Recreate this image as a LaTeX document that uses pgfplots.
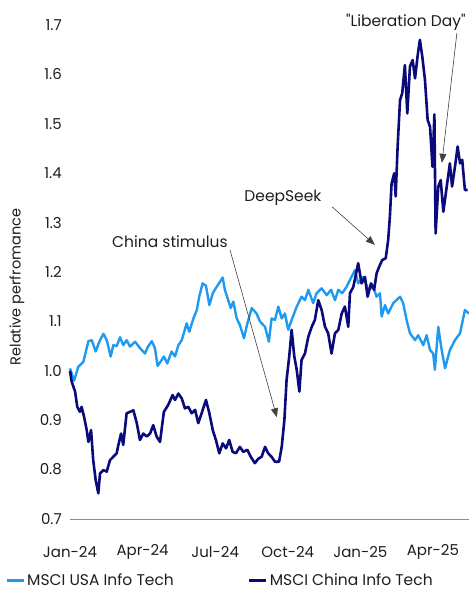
\documentclass[border=0pt]{standalone}
\usepackage{fontspec}
\setmainfont{Poppins}
\usepackage{pgfplots}
\usepackage{pgfplotstable}
\pgfplotsset{compat=1.18}
\usetikzlibrary{arrows.meta}
\definecolor{usa}{HTML}{1E9BF0}
\definecolor{china}{HTML}{0A0A7A}
\definecolor{arr}{HTML}{404040}
\definecolor{txt}{HTML}{1E1E1E}

\pgfplotstableread{
m v
0.00 1.005
0.17 0.980
0.34 1.008
0.55 1.018
0.76 1.060
0.90 1.062
1.06 1.039
1.21 1.059
1.38 1.075
1.52 1.062
1.68 1.029
1.79 1.052
1.93 1.050
2.07 1.068
2.20 1.052
2.34 1.062
2.48 1.049
2.69 1.059
2.89 1.046
3.10 1.035
3.21 1.048
3.38 1.060
3.51 1.046
3.62 1.010
3.79 1.022
3.88 1.029
4.02 1.015
4.20 1.039
4.34 1.029
4.48 1.052
4.62 1.062
4.82 1.096
4.93 1.079
5.10 1.106
5.24 1.123
5.34 1.150
5.48 1.177
5.62 1.172
5.76 1.133
5.90 1.157
6.06 1.170
6.20 1.180
6.31 1.189
6.40 1.164
6.54 1.143
6.64 1.127
6.75 1.140
6.89 1.106
7.02 1.093
7.19 1.066
7.33 1.096
7.51 1.127
7.71 1.116
7.85 1.100
8.06 1.089
8.22 1.059
8.33 1.106
8.47 1.103
8.61 1.130
8.75 1.106
8.88 1.116
9.02 1.083
9.16 1.103
9.37 1.130
9.57 1.150
9.71 1.143
9.85 1.164
10.05 1.137
10.19 1.157
10.40 1.167
10.61 1.153
10.79 1.164
10.95 1.143
11.09 1.164
11.25 1.157
11.43 1.170
11.57 1.184
11.78 1.204
11.91 1.177
12.12 1.190
12.33 1.164
12.53 1.170
12.67 1.150
12.81 1.157
12.88 1.110
13.02 1.133
13.15 1.116
13.36 1.137
13.64 1.150
13.77 1.137
13.91 1.103
14.05 1.076
14.26 1.062
14.39 1.072
14.60 1.052
14.74 1.072
14.88 1.042
15.01 1.035
15.08 1.002
15.22 1.089
15.36 1.042
15.50 1.005
15.70 1.042
15.91 1.062
16.12 1.076
16.32 1.123
16.49 1.116
}\usadata

\pgfplotstableread{
m v
0.00 1.000
0.07 0.978
0.21 0.958
0.30 0.927
0.41 0.917
0.48 0.927
0.58 0.907
0.69 0.880
0.76 0.856
0.87 0.880
0.96 0.819
1.06 0.779
1.17 0.752
1.24 0.792
1.38 0.799
1.52 0.796
1.65 0.819
1.79 0.826
1.93 0.833
2.00 0.850
2.11 0.873
2.20 0.850
2.34 0.914
2.48 0.917
2.62 0.920
2.76 0.894
2.89 0.860
3.03 0.873
3.17 0.867
3.31 0.873
3.44 0.890
3.58 0.867
3.72 0.856
3.88 0.917
4.06 0.931
4.24 0.951
4.34 0.941
4.48 0.954
4.62 0.944
4.75 0.924
4.89 0.927
5.03 0.914
5.17 0.921
5.30 0.894
5.44 0.914
5.62 0.941
5.76 0.914
5.90 0.880
6.03 0.860
6.17 0.833
6.31 0.853
6.45 0.843
6.58 0.860
6.72 0.836
6.86 0.833
7.02 0.846
7.16 0.836
7.33 0.840
7.47 0.826
7.64 0.813
7.78 0.822
7.92 0.826
8.06 0.846
8.19 0.833
8.33 0.826
8.47 0.816
8.64 0.816
8.75 0.846
8.86 0.900
8.95 0.981
9.06 1.029
9.16 1.083
9.27 1.029
9.37 1.002
9.48 0.958
9.57 1.022
9.71 1.035
9.85 1.069
9.99 1.089
10.12 1.103
10.26 1.143
10.40 1.123
10.54 1.089
10.67 1.076
10.81 1.035
10.95 1.076
11.09 1.083
11.23 1.116
11.36 1.130
11.50 1.089
11.57 1.157
11.71 1.170
11.91 1.218
12.05 1.177
12.19 1.190
12.30 1.150
12.44 1.177
12.57 1.164
12.67 1.197
12.78 1.211
12.90 1.224
13.05 1.228
13.15 1.265
13.22 1.312
13.29 1.379
13.40 1.400
13.46 1.353
13.54 1.454
13.64 1.548
13.73 1.562
13.84 1.619
13.94 1.521
14.05 1.616
14.16 1.629
14.26 1.592
14.37 1.639
14.46 1.670
14.56 1.636
14.67 1.589
14.78 1.508
14.88 1.494
14.98 1.413
15.06 1.519
15.11 1.278
15.22 1.373
15.32 1.386
15.43 1.322
15.57 1.373
15.70 1.420
15.79 1.373
15.91 1.413
16.02 1.454
16.12 1.420
16.21 1.427
16.32 1.366
16.43 1.366
}\chinadata

\begin{document}
\begin{tikzpicture}
\useasboundingbox (0pt,0pt) rectangle (469pt,-590pt);
\begin{axis}[
  at={(70pt,-519pt)}, anchor=south west,
  scale only axis, width=399pt, height=494pt,
  xmin=0, xmax=16.49, ymin=0.7, ymax=1.7,
  clip=false,
  axis x line=bottom, axis y line=left,
  axis line style={-},
  x axis line style={draw=gray!90, line width=0.9pt},
  y axis line style={draw=none},
  major tick length=0pt,
  xtick={0,3,6,9,12,15},
  xticklabels={Jan-24,Apr-24,Jul-24,Oct-24,Jan-25,Apr-25},
  ytick={0.7,0.8,0.9,1.0,1.1,1.2,1.3,1.4,1.5,1.6,1.7},
  y tick label style={/pgf/number format/fixed, /pgf/number format/fixed zerofill, /pgf/number format/precision=1},
  /pgf/number format/assume math mode=true,
  every tick label/.append style={font=\fontsize{15}{17}\selectfont, text=txt},
  xticklabel style={anchor=center, yshift=-33pt},
  yticklabel style={anchor=east, inner sep=0pt, xshift=-8pt},
  legend style={at={(-0.163,-0.1235)}, anchor=west, draw=none, fill=none,
    inner sep=0pt, font=\fontsize{15.5}{17}\selectfont, text=txt,
    legend columns=2, /tikz/column 2/.style={column sep=72pt},
    nodes={text depth=0pt}},
  legend cell align=left,
  legend image code/.code={\draw[#1, line width=3pt] (0pt,0pt) -- (17pt,0pt);},
]
\addplot[usa, line width=2.4pt, line join=round] table[x=m,y=v] {\usadata};
\addlegendentry{MSCI USA Info Tech}
\addplot[china, line width=2.6pt, line join=round] table[x=m,y=v] {\chinadata};
\addlegendentry{MSCI China Info Tech}

\node[font=\fontsize{15.5}{17}\selectfont, text=txt] at (axis cs:4.13,1.261) {China stimulus};
\draw[arr, line width=0.6pt, -{Triangle[length=9pt, width=7pt]}] (axis cs:6.61,1.245) -- (axis cs:8.55,0.906);
\node[font=\fontsize{15.5}{17}\selectfont, text=txt] at (axis cs:8.80,1.350) {DeepSeek};
\draw[arr, line width=0.6pt, -{Triangle[length=9pt, width=7pt]}] (axis cs:10.83,1.332) -- (axis cs:12.60,1.255);
\node[font=\fontsize{15.5}{17}\selectfont, text=txt] at (axis cs:13.88,1.706) {\textquotedbl Liberation Day\textquotedbl};
\draw[arr, line width=0.6pt, -{Triangle[length=9pt, width=7pt]}] (axis cs:15.99,1.684) -- (axis cs:15.37,1.421);
\end{axis}
\node[rotate=90, font=\fontsize{14.5}{17}\selectfont, text=txt] at (17pt,-287pt) {Relative perfromance};
\end{tikzpicture}
\end{document}
